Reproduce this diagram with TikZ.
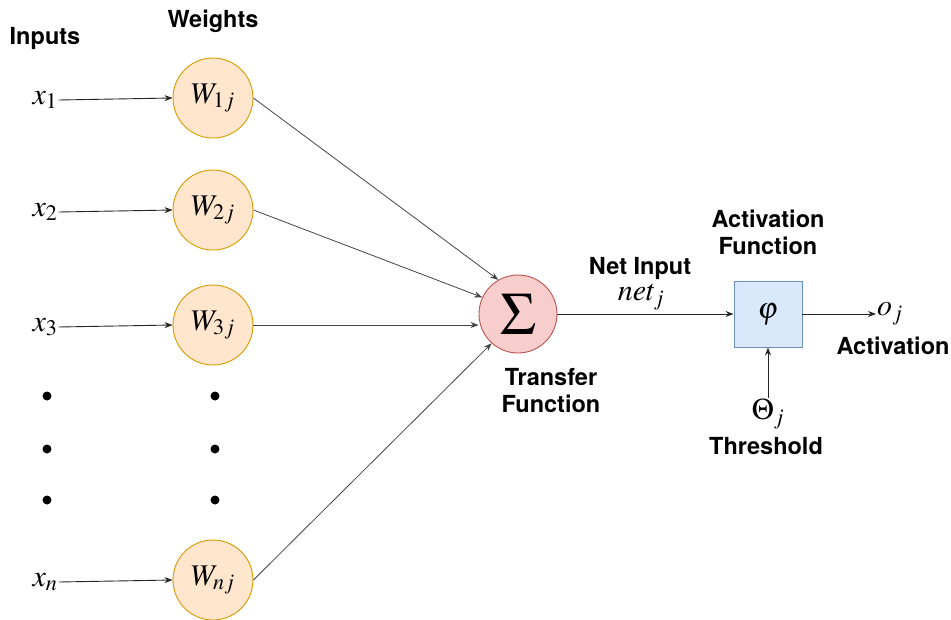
\documentclass[tikz,border=0pt]{standalone}
\usepackage{mathptmx}
\usepackage{graphicx}
\usepackage{fontspec}
\setsansfont{TeX Gyre Heros}
\usetikzlibrary{arrows.meta}
\definecolor{wfill}{HTML}{FFE6CC}
\definecolor{wdraw}{HTML}{D79B00}
\definecolor{sfill}{HTML}{F8CECC}
\definecolor{sdraw}{HTML}{B85450}
\definecolor{pfill}{HTML}{DAE8FC}
\definecolor{pdraw}{HTML}{6C8EBF}
\definecolor{lgray}{HTML}{444444}
\begin{document}
\begin{tikzpicture}[x=1pt,y=-1pt,
  weight/.style={circle,draw=wdraw,fill=wfill,line width=0.9pt,minimum size=80pt,inner sep=0pt,font=\fontsize{30}{34}\selectfont},
  sumnode/.style={circle,draw=sdraw,fill=sfill,line width=0.9pt,minimum size=78pt,inner sep=0pt,font=\fontsize{30}{34}\selectfont},
  actbox/.style={rectangle,draw=pdraw,fill=pfill,line width=0.9pt,minimum width=68pt,minimum height=66pt,inner sep=0pt,font=\fontsize{30}{34}\selectfont},
  mathlbl/.style={inner sep=1pt,font=\fontsize{30}{34}\selectfont},
  lbl/.style={inner sep=0pt,align=center,font=\sffamily\bfseries\fontsize{23.5}{27}\selectfont},
  arr/.style={-{Stealth[length=8pt,width=6pt]},line width=0.9pt,draw=black!85},
  warr/.style={-{Stealth[length=8pt,width=6pt]},line width=0.8pt,draw=lgray},
  dotnode/.style={circle,fill=black,inner sep=0pt,minimum size=9pt}
]
\useasboundingbox (0,0) rectangle (951,619);
% headers
\node[lbl] (hin) at (45,38) {Inputs};
\node[lbl] (hw) at (213,21) {Weights};
% inputs
\node[mathlbl] (x1) at (45,100) {$x_1$};
\node[mathlbl] (x2) at (45,212) {$x_2$};
\node[mathlbl] (x3) at (45,327) {$x_3$};
\node[mathlbl] (xn) at (45,582) {$x_n$};
% weights
\node[weight] (w1) at (213,98) {$W_{1j}$};
\node[weight] (w2) at (213,210) {$W_{2j}$};
\node[weight] (w3) at (213,325) {$W_{3j}$};
\node[weight] (wn) at (213,580) {$W_{nj}$};
% dots
\node[dotnode] (d1) at (47,396) {};
\node[dotnode] (d2) at (47,449) {};
\node[dotnode] (d3) at (47,500) {};
\node[dotnode] (e1) at (215,396) {};
\node[dotnode] (e2) at (215,449) {};
\node[dotnode] (e3) at (215,500) {};
% input arrows
\draw[arr] (x1.east) -- (w1.west);
\draw[arr] (x2.east) -- (w2.west);
\draw[arr] (x3.east) -- (w3.west);
\draw[arr] (xn.east) -- (wn.west);
% sum
\node[sumnode] (sum) at (518,314) {\scalebox{2}{$\Sigma$}};
\draw[warr] (w1.east) -- (sum.120);
\draw[warr] (w2.east) -- (sum.155);
\draw[warr] (w3.east) -- (w3.east -| sum.west);
\draw[warr] (wn.east) -- (sum.228);
\node[lbl] (tf) at (551,391) {Transfer\\Function};
% activation
\node[actbox] (phi) at (768,314) {$\varphi$};
\draw[arr] (sum.east) -- (phi.west);
\node[lbl] (ni) at (640,268) {Net Input};
\node[mathlbl] (net) at (641,297) {$net_j$};
\node[lbl] (af) at (768,232) {Activation\\Function};
\node[mathlbl,anchor=west] (oj) at (876,314) {$o_j$};
\draw[arr] (phi.east) -- (oj.west);
\node[lbl] (act) at (893,346) {Activation};
\node[mathlbl] (th) at (768,414) {$\Theta_j$};
\draw[arr] (th.north) -- (phi.south);
\node[lbl] (thl) at (766,446) {Threshold};
\end{tikzpicture}
\end{document}
